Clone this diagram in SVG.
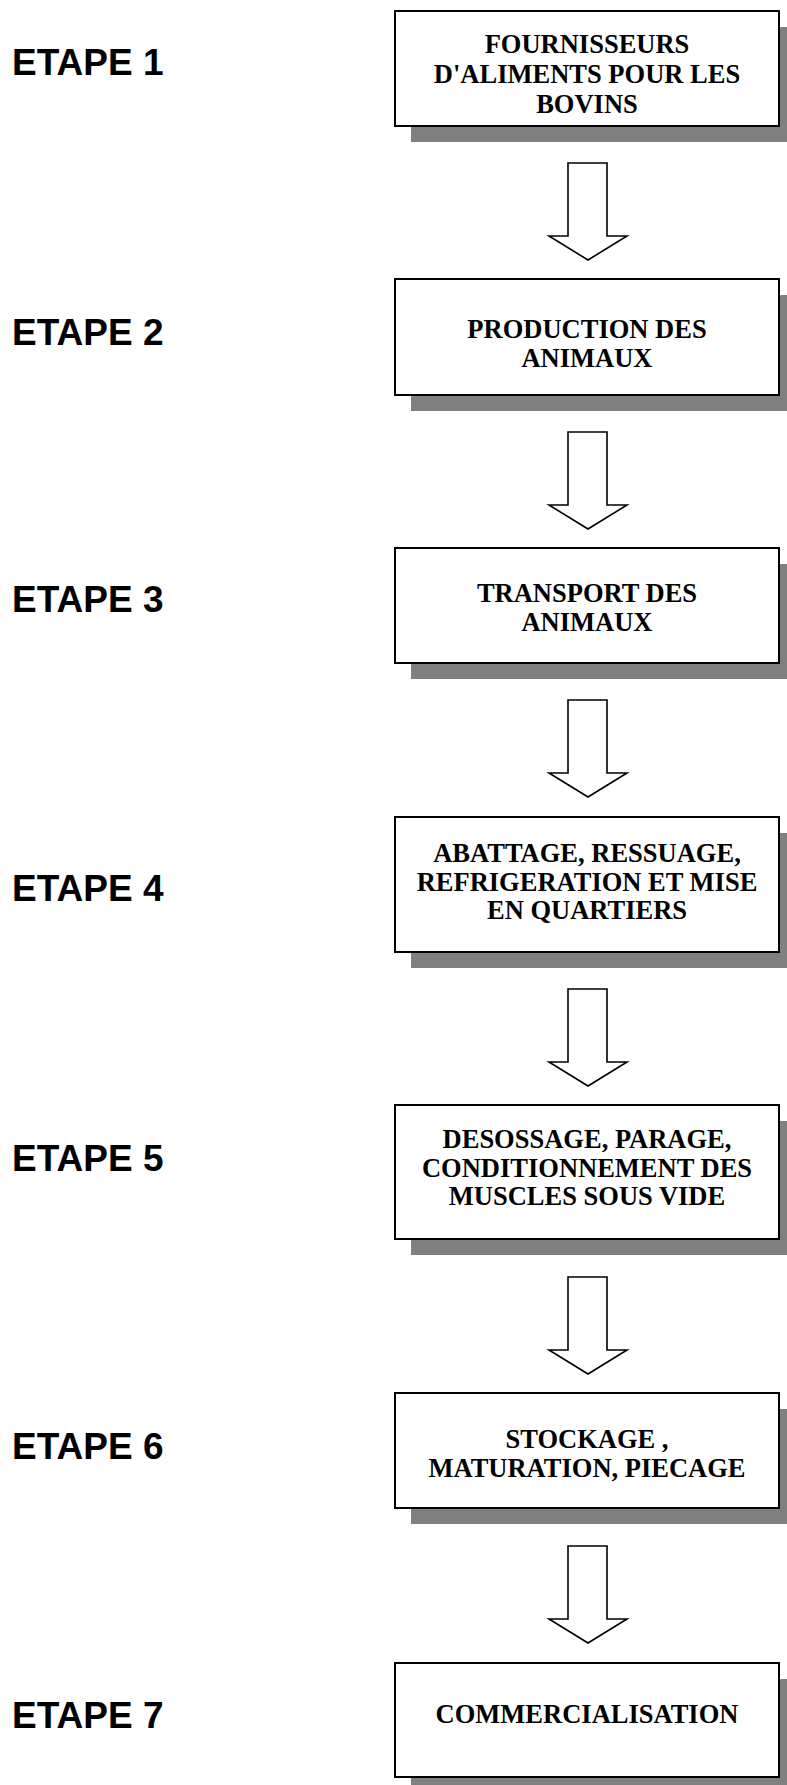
<svg xmlns="http://www.w3.org/2000/svg" width="787" height="1785" viewBox="0 0 787 1785">
<style>
.step{font-family:"Liberation Sans",Arial,sans-serif;font-weight:bold;font-size:37px;fill:#000}
.box{fill:#fff;stroke:#000;stroke-width:2}
.shadow{fill:#808080}
.t{font-family:"Liberation Serif","Times New Roman",serif;font-weight:bold;font-size:26.5px;fill:#000;text-anchor:middle}
.arrow{fill:#fff;stroke:#000;stroke-width:1.6;stroke-linejoin:miter}
</style>
<rect width="787" height="1785" fill="#fff"/>
<g id="labels">
<text class="step" x="12" y="75">ETAPE 1</text>
<text class="step" x="12" y="345">ETAPE 2</text>
<text class="step" x="12" y="612">ETAPE 3</text>
<text class="step" x="12" y="901">ETAPE 4</text>
<text class="step" x="12" y="1171">ETAPE 5</text>
<text class="step" x="12" y="1459">ETAPE 6</text>
<text class="step" x="12" y="1728">ETAPE 7</text>
</g>
<g id="node1">
<rect class="shadow" x="411" y="27" width="384" height="115"/>
<rect class="box" x="395" y="11" width="384" height="115"/>
<text class="t" x="587" y="53">FOURNISSEURS</text>
<text class="t" x="587" y="83">D'ALIMENTS POUR LES</text>
<text class="t" x="587" y="113">BOVINS</text>
</g>
<g id="node2">
<rect class="shadow" x="411" y="295" width="384" height="116"/>
<rect class="box" x="395" y="279" width="384" height="116"/>
<text class="t" x="587" y="338">PRODUCTION DES</text>
<text class="t" x="587" y="367">ANIMAUX</text>
</g>
<g id="node3">
<rect class="shadow" x="411" y="564" width="384" height="115"/>
<rect class="box" x="395" y="548" width="384" height="115"/>
<text class="t" x="587" y="602">TRANSPORT DES</text>
<text class="t" x="587" y="631">ANIMAUX</text>
</g>
<g id="node4">
<rect class="shadow" x="411" y="833" width="384" height="135"/>
<rect class="box" x="395" y="817" width="384" height="135"/>
<text class="t" x="587" y="862">ABATTAGE, RESSUAGE,</text>
<text class="t" x="587" y="890.5">REFRIGERATION ET MISE</text>
<text class="t" x="587" y="919">EN QUARTIERS</text>
</g>
<g id="node5">
<rect class="shadow" x="411" y="1121" width="384" height="134"/>
<rect class="box" x="395" y="1105" width="384" height="134"/>
<text class="t" x="587" y="1148">DESOSSAGE, PARAGE,</text>
<text class="t" x="587" y="1176.5">CONDITIONNEMENT DES</text>
<text class="t" x="587" y="1205">MUSCLES SOUS VIDE</text>
</g>
<g id="node6">
<rect class="shadow" x="411" y="1409" width="384" height="115"/>
<rect class="box" x="395" y="1393" width="384" height="115"/>
<text class="t" x="587" y="1448">STOCKAGE ,</text>
<text class="t" x="587" y="1477">MATURATION, PIECAGE</text>
</g>
<g id="node7">
<rect class="shadow" x="411" y="1679" width="384" height="114"/>
<rect class="box" x="395" y="1663" width="384" height="114"/>
<text class="t" x="587" y="1723">COMMERCIALISATION</text>
</g>
<g id="connectors">
<path class="arrow" d="M568,163 H607 V236 H627 L588,260 L549,236 H568 Z"/>
<path class="arrow" d="M568,432 H607 V505 H627 L588,529 L549,505 H568 Z"/>
<path class="arrow" d="M568,700 H607 V773 H627 L588,797 L549,773 H568 Z"/>
<path class="arrow" d="M568,989 H607 V1062 H627 L588,1086 L549,1062 H568 Z"/>
<path class="arrow" d="M568,1277 H607 V1350 H627 L588,1374 L549,1350 H568 Z"/>
<path class="arrow" d="M568,1546 H607 V1619 H627 L588,1643 L549,1619 H568 Z"/>
</g>
</svg>
